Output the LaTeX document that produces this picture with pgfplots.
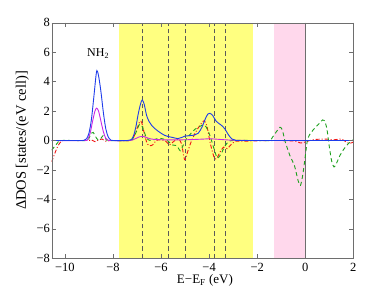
\documentclass[border=0pt]{standalone}
\usepackage{fontspec}
\setmainfont{Liberation Serif}
\usepackage{pgfplots}
\pgfplotsset{compat=1.18}
\definecolor{yfill}{RGB}{255,255,128}
\definecolor{pfill}{RGB}{255,216,236}
\definecolor{cblue}{RGB}{30,60,235}
\definecolor{cmag}{RGB}{200,40,230}
\definecolor{cgreen}{RGB}{30,160,30}
\definecolor{cred}{RGB}{240,20,20}
\definecolor{axgray}{RGB}{110,110,110}
\definecolor{dgray}{RGB}{90,90,90}
\begin{document}
\begin{tikzpicture}
\begin{axis}[
  at={(0pt,0pt)}, anchor=south west,
  scale only axis, width=301.6pt, height=235.6pt,
  xmin=-10.55, xmax=2, ymin=-8, ymax=8,
  xtick={-10,-8,-6,-4,-2,0,2},
  xticklabels={−10,−8,−6,−4,−2,0,2},
  ytick={-8,-6,-4,-2,0,2,4,6,8},
  yticklabels={−8,−6,−4,−2,0,2,4,6,8},
  tick align=inside, major tick length=4pt,
  axis line style={axgray},
  every tick/.style={axgray},
  ticklabel style={font=\fontsize{12.5}{14}\selectfont, text=black},
  xticklabel style={yshift=-1.5pt},
  yticklabel style={xshift=1.8pt},
  axis on top,
  xlabel={E−E\textsubscript{F} (eV)},
  xlabel style={font=\fontsize{13}{15}\selectfont, at={(axis description cs:0.508,-0.094)}, anchor=center},
  ylabel={ΔDOS [states/(eV cell)]},
  ylabel style={font=\fontsize{14.5}{16}\selectfont, at={(axis description cs:-0.097,0.5)}, anchor=center, rotate=0},
  clip=true,
]
% shaded regions
\addplot[fill=yfill, draw=none] coordinates {(-7.76,-8) (-7.76,8) (-2.17,8) (-2.17,-8)} -- cycle;
\addplot[fill=pfill, draw=none] coordinates {(-1.29,-8) (-1.29,8) (0,8) (0,-8)} -- cycle;
% vertical lines
\addplot[axgray, line width=0.6pt] coordinates {(0,-8) (0,8)};
\addplot[dgray, line width=0.6pt, dash pattern=on 4.5pt off 3pt] coordinates {(-6.78,-8) (-6.78,8)};
\addplot[dgray, line width=0.6pt, dash pattern=on 4.5pt off 3pt] coordinates {(-5.71,-8) (-5.71,8)};
\addplot[dgray, line width=0.6pt, dash pattern=on 4.5pt off 3pt] coordinates {(-4.98,-8) (-4.98,8)};
\addplot[dgray, line width=0.6pt, dash pattern=on 4.5pt off 3pt] coordinates {(-3.79,-8) (-3.79,8)};
\addplot[dgray, line width=0.6pt, dash pattern=on 4.5pt off 3pt] coordinates {(-3.33,-8) (-3.33,8)};
% red dash-dot
\addplot[cred, line width=0.9pt, smooth, tension=0.5, dash pattern=on 4pt off 2pt on 1pt off 2pt] coordinates {
(-10.55,-1.45) (-10.45,-1.0) (-10.3,-0.4) (-10.15,-0.05) (-10.0,0) (-9.0,0) (-8.9,0.05) (-8.75,-0.08) (-8.6,0.05) (-8.45,0.1) (-8.3,-0.05) (-8.1,0) (-7.3,0) (-7.15,0.2) (-7.0,0.8) (-6.88,1.3) (-6.8,1.2) (-6.7,0.5) (-6.6,-0.1) (-6.5,-0.35) (-6.35,-0.3) (-6.2,0.0) (-6.0,0.05) (-5.8,-0.05) (-5.65,-0.3) (-5.5,-0.1) (-5.3,0.1) (-5.15,-0.2) (-5.02,-1.3) (-4.9,-0.8) (-4.75,-0.1) (-4.55,0.6) (-4.35,1.1) (-4.2,1.35) (-4.08,0.9) (-3.95,-0.2) (-3.8,-1.1) (-3.7,-1.25) (-3.55,-0.8) (-3.4,-0.45) (-3.25,-0.55) (-3.1,-0.3) (-2.9,-0.05) (-2.6,-0.05) (-2.0,-0.02) (-1.0,0) (-0.4,-0.05) (-0.2,-0.17) (0.0,-0.1) (0.3,0.05) (0.8,0.1) (1.2,0.05) (1.5,0.1) (1.7,-0.1) (1.85,-0.2) (2.0,-0.1)};
% green dashed
\addplot[cgreen, line width=0.9pt, smooth, tension=0.5, dash pattern=on 4pt off 3pt] coordinates {
(-10.55,-0.65) (-10.45,-0.45) (-10.3,-0.15) (-10.15,0) (-9.1,0) (-9.0,0.15) (-8.9,0.5) (-8.82,0.55) (-8.72,0.25) (-8.62,0.05) (-8.5,0.15) (-8.4,0.35) (-8.3,0.15) (-8.2,0) (-7.3,0) (-7.15,0.2) (-7.0,0.7) (-6.9,1.1) (-6.8,1.0) (-6.7,0.6) (-6.6,0.15) (-6.45,0.0) (-6.3,0.05) (-6.1,0.15) (-5.9,0.1) (-5.7,-0.05) (-5.55,-0.3) (-5.35,-0.35) (-5.2,-0.7) (-5.1,-0.4) (-4.95,0.1) (-4.8,0.4) (-4.6,0.75) (-4.4,0.95) (-4.2,1.05) (-4.05,0.7) (-3.9,0.0) (-3.75,-0.8) (-3.65,-1.2) (-3.5,-0.9) (-3.35,-0.4) (-3.2,-0.1) (-3.0,0) (-2.0,0) (-1.5,0.0) (-1.35,0.25) (-1.2,0.6) (-1.05,0.9) (-0.95,0.7) (-0.85,0.0) (-0.75,-0.5) (-0.62,-1.1) (-0.45,-1.7) (-0.3,-2.7) (-0.2,-3.05) (-0.1,-2.3) (0.0,-1.1) (0.1,0.1) (0.25,0.55) (0.4,0.85) (0.55,1.1) (0.72,1.4) (0.8,1.35) (0.9,0.8) (1.0,-0.4) (1.1,-1.4) (1.2,-1.8) (1.3,-1.55) (1.45,-1.0) (1.6,-0.6) (1.8,-0.2) (2.0,0.05)};
% magenta
\addplot[cmag, line width=0.9pt, smooth, tension=0.5] coordinates {
(-10.55,0) (-9.2,0) (-9.05,0.1) (-8.95,0.5) (-8.85,1.3) (-8.75,2.0) (-8.68,2.2) (-8.6,2.0) (-8.5,1.3) (-8.4,0.6) (-8.3,0.15) (-8.2,0.02) (-8.1,0) (-7.3,0) (-7.1,0.1) (-6.9,0.25) (-6.75,0.28) (-6.6,0.2) (-6.4,0.1) (-6.0,0.05) (-5.0,0.05) (-4.2,0.1) (-4.0,0.12) (-3.6,0.08) (-3.0,0.02) (-2,0) (2,0)};
% blue
\addplot[cblue, line width=0.9pt, smooth, tension=0.5] coordinates {
(-10.55,0) (-9.4,0) (-9.2,0.02) (-9.1,0.12) (-9.0,0.5) (-8.9,1.4) (-8.8,2.9) (-8.72,4.2) (-8.67,4.75) (-8.6,4.4) (-8.5,3.3) (-8.4,1.9) (-8.3,0.8) (-8.2,0.25) (-8.1,0.05) (-8.0,0) (-7.4,0) (-7.25,0.05) (-7.15,0.3) (-7.05,0.9) (-6.95,1.8) (-6.85,2.5) (-6.78,2.75) (-6.7,2.45) (-6.6,1.7) (-6.5,1.3) (-6.4,1.05) (-6.25,0.8) (-6.05,0.55) (-5.85,0.35) (-5.7,0.27) (-5.5,0.2) (-5.3,0.13) (-5.15,0.2) (-5.0,0.3) (-4.8,0.33) (-4.6,0.38) (-4.45,0.5) (-4.3,0.9) (-4.15,1.5) (-4.05,1.8) (-3.97,1.85) (-3.85,1.7) (-3.7,1.3) (-3.5,1.05) (-3.35,0.8) (-3.2,0.4) (-3.05,0.1) (-2.9,0.02) (-2.5,0) (2,0)};
\node[font=\fontsize{12}{14}\selectfont, anchor=base west, inner sep=0pt] at (axis cs:-9.08,5.69) {NH\textsubscript{2}};
\end{axis}
\pgfresetboundingbox
\useasboundingbox (-51.7pt,-34.7pt) rectangle (338.3pt,258.3pt);
\end{tikzpicture}
\end{document}
